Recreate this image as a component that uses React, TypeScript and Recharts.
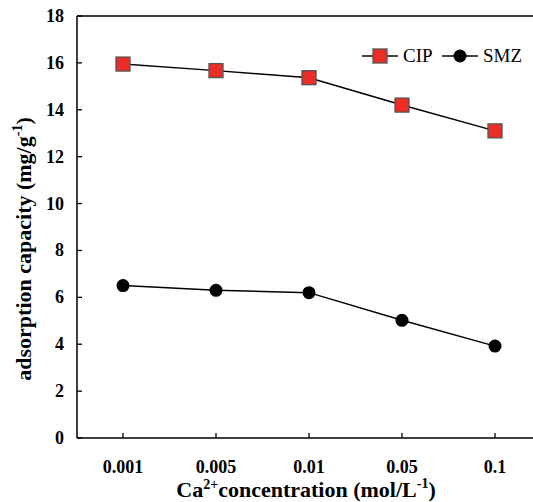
import { LineChart, Line, XAxis, YAxis, ReferenceLine, Label } from "recharts";

const concentrations = ["0.001", "0.005", "0.01", "0.05", "0.1"];
const cipCapacity = [15.95, 15.67, 15.37, 14.2, 13.1];
const smzCapacity = [6.5, 6.3, 6.2, 5.02, 3.92];
const yTicks = [0, 2, 4, 6, 8, 10, 12, 14, 16, 18];

const data = concentrations.map((c, i) => ({
  conc: c,
  cip: cipCapacity[i],
  smz: smzCapacity[i],
}));

const FONT = '"Liberation Serif", "Times New Roman", serif';
const CIP_RED = "#ec2d26";
const txt = { fontFamily: FONT };

const SquareDot = (props: any) => {
  const { cx, cy, index } = props;
  if (cx == null || cy == null) return <g key={index} />;
  return (
    <rect
      key={index}
      x={cx - 7}
      y={cy - 7}
      width={14}
      height={14}
      fill={CIP_RED}
      stroke="#555"
      strokeWidth={1.3}
    />
  );
};

const CircleDot = (props: any) => {
  const { cx, cy, index } = props;
  if (cx == null || cy == null) return <g key={index} />;
  return <circle key={index} cx={cx} cy={cy} r={6.5} fill="#000" />;
};

// ticks drawn inward from the axis line
const XTick = ({ x, y, payload }: any) => (
  <g>
    <line x1={x} y1={y} x2={x} y2={y - 5} stroke="#000" strokeWidth={1.3} />
    <text x={x} y={y + 35} textAnchor="middle" style={txt} fontWeight="bold" fontSize={18} fill="#000">
      {payload.value}
    </text>
  </g>
);

const YTick = ({ x, y, payload }: any) => (
  <g>
    <line x1={x} y1={y} x2={x + 5} y2={y} stroke="#000" strokeWidth={1.3} />
    <text x={x - 13} y={y + 6} textAnchor="end" style={txt} fontWeight="bold" fontSize={18} fill="#000">
      {payload.value}
    </text>
  </g>
);

const LegendBox = () => (
  <svg width={170} height={24} style={{ display: "block" }}>
    <line x1={2} y1={12} x2={38} y2={12} stroke="#000" strokeWidth={1.5} />
    <rect x={13} y={5} width={14} height={14} fill={CIP_RED} stroke="#555" strokeWidth={1.3} />
    <text x={43} y={18} style={txt} fontSize={19} fill="#000">CIP</text>
    <line x1={82} y1={12} x2={118} y2={12} stroke="#000" strokeWidth={1.5} />
    <circle cx={100} cy={12} r={6.5} fill="#000" />
    <text x={123} y={18} style={txt} fontSize={19} fill="#000">SMZ</text>
  </svg>
);

export default function App() {
  return (
    <div style={{ position: "relative", width: 533, height: 502, overflow: "hidden", background: "#fff", fontFamily: FONT }}>
      <style>{"body{margin:0}"}</style>
      <LineChart width={545} height={502} data={data} margin={{ top: 16, right: 4, bottom: 24, left: 17 }}>
        <XAxis
          dataKey="conc"
          height={40}
          stroke="#000"
          strokeWidth={1.5}
          tickLine={false}
          tickSize={0}
          tickMargin={0}
          tick={<XTick />}
          interval={0}
          padding={{ left: 46, right: 46 }}
        >
          <Label
            content={({ viewBox }: any) => (
              <text
                x={viewBox.x + viewBox.width / 2 - 3}
                y={viewBox.y + 59}
                textAnchor="middle"
                style={txt}
                fontWeight="bold"
                fontSize={22}
                fill="#000"
              >
                Ca<tspan dy={-8} fontSize={14}>2+</tspan>
                <tspan dy={8}>concentration (mol/L</tspan>
                <tspan dy={-9} fontSize={14}>-1</tspan>
                <tspan dy={9}>)</tspan>
              </text>
            )}
          />
        </XAxis>
        <YAxis
          width={60}
          domain={[0, 18]}
          ticks={yTicks}
          stroke="#000"
          strokeWidth={1.5}
          tickLine={false}
          tickSize={0}
          tickMargin={0}
          tick={<YTick />}
          interval={0}
        >
          <Label
            content={({ viewBox }: any) => {
              const cx = viewBox.x + 14;
              const cy = viewBox.y + viewBox.height / 2 + 22;
              return (
                <text
                  x={cx}
                  y={cy}
                  transform={`rotate(-90 ${cx} ${cy})`}
                  textAnchor="middle"
                  style={txt}
                  fontWeight="bold"
                  fontSize={22}
                  fill="#000"
                >
                  adsorption capacity (mg/g<tspan dy={-9} fontSize={14}>-1</tspan>
                  <tspan dy={9}>)</tspan>
                </text>
              );
            }}
          />
        </YAxis>
        <ReferenceLine y={18} stroke="#000" strokeWidth={1.5} />
        <Line
          dataKey="cip"
          stroke="#000"
          strokeWidth={1.5}
          dot={SquareDot}
          activeDot={false}
          isAnimationActive={false}
        />
        <Line
          dataKey="smz"
          stroke="#000"
          strokeWidth={1.5}
          dot={CircleDot}
          activeDot={false}
          isAnimationActive={false}
        />
      </LineChart>
      <div style={{ position: "absolute", left: 360, top: 44 }}>
        <LegendBox />
      </div>
    </div>
  );
}
